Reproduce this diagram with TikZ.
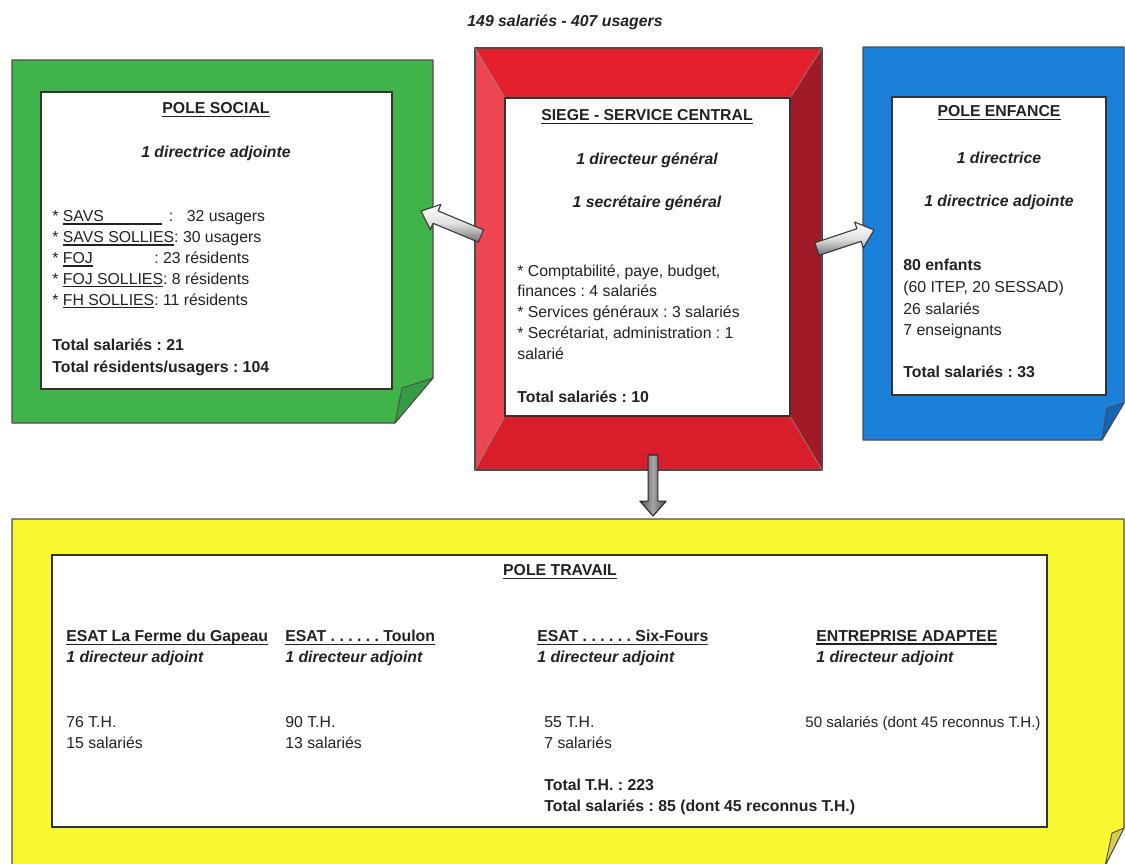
\documentclass[tikz,border=0pt]{standalone}
\usepackage{fontspec}
\setmainfont{Liberation Sans}
\usetikzlibrary{calc,fit}

\definecolor{ink}{HTML}{222222}
\definecolor{grn}{HTML}{40B44A}
\definecolor{grnflap}{HTML}{379A44}
\definecolor{blu}{HTML}{1A80DA}
\definecolor{bluflap}{HTML}{1466B4}
\definecolor{yel}{HTML}{F8F830}
\definecolor{yelflap}{HTML}{D9CC4C}
\definecolor{redtop}{HTML}{E3202C}
\definecolor{redleft}{HTML}{EE4650}
\definecolor{redright}{HTML}{A01B27}
\definecolor{redbottom}{HTML}{D81E2A}

\newcommand\basefont{\fontsize{9}{11.9}\selectfont\frenchspacing}
% thick underline used for the headings
\newcommand\uln[1]{\leavevmode\setbox0\hbox{#1}\rlap{\rule[-1.9pt]{\wd0}{0.75pt}}\box0}

% block arrow: style, tail, tip, shaft half-width, head half-width, head length
\newcommand\blockarrow[6]{%
  \path[#1] let \p1=(#2), \p2=(#3),
      \n1={atan2(\y2-\y1,\x2-\x1)}, \n2={veclen(\x2-\x1,\y2-\y1)} in
    [shift={(\p1)}, rotate=\n1]
    (0pt,-#4) -- ({\n2-#6},-#4) -- ({\n2-#6},-#5) -- ({\n2+0pt},0pt)
    -- ({\n2-#6},#5) -- ({\n2-#6},#4) -- (0pt,#4) -- cycle;}

\tikzset{
  txt/.style={inner sep=0pt, text=ink, font=\basefont},
  bftxt/.style={txt, font=\basefont\bfseries},
  bitxt/.style={txt, font=\basefont\bfseries\itshape},
  lst/.style={align=left, anchor=north west},
  frameline/.style={draw=black!70, line width=0.6pt, line join=round},
  panel/.style={draw=black!80, line width=0.8pt, fill=white, inner sep=0pt},
  flapline/.style={draw=black!70, line width=0.5pt, line join=round},
  sidearrow/.style={draw=black!80, line width=0.6pt, line join=round,
    top color=white, bottom color=black!55, middle color=black!12},
  downarrow/.style={draw=black!85, line width=0.6pt, line join=round,
    left color=black!70, right color=black!70, middle color=black!35},
}

\begin{document}
\begin{tikzpicture}[x=0.02cm, y=-0.02cm]
\useasboundingbox (0,0) rectangle (1125,863);
\fill[white] (0,0) rectangle (1125,863);

% ---------- heading ----------
\node[bitxt] (title) at (565,22) {149 salariés - 407 usagers};

% ---------- POLE SOCIAL (green sheet) ----------
\path[frameline, fill=grn] (12,60) -- (433,60) -- (433,378) -- (395,423) -- (12,423) -- cycle;
\path[flapline, fill=grnflap] (433,378) -- (402,388) -- (395,423) -- cycle;
\node[panel, fit={(41,92) (392,389)}] (social) {};

\node[bftxt] (socT) at (216,110) {\uln{POLE SOCIAL}};
\node[bitxt] (socD) at (216,153) {1 directrice adjointe};
\node[txt, lst] (socL) at (52,210) {%
  * \uln{SAVS\hspace*{33pt}}\hspace*{4pt}:\hspace*{7.7pt}32 usagers\\
  * \uln{SAVS SOLLIES}: 30 usagers\\
  * \uln{FOJ}\hspace*{35pt}: 23 résidents\\
  * \uln{FOJ SOLLIES} : 8 résidents\\
  * \uln{FH SOLLIES} : 11 résidents};
\node[bftxt, lst] (socTot) at (52,339) {Total salariés : 21\\[0.6pt]Total résidents/usagers : 104};

% ---------- SIEGE (red bevelled frame) ----------
\fill[redtop]    (475,48) -- (822,48) -- (790,98) -- (505,98) -- cycle;
\fill[redleft]   (475,48) -- (505,98) -- (505,416) -- (475,470) -- cycle;
\fill[redright]  (822,48) -- (822,470) -- (790,416) -- (790,98) -- cycle;
\fill[redbottom] (475,470) -- (505,416) -- (790,416) -- (822,470) -- cycle;
\draw[frameline] (475,48) rectangle (822,470);
\draw[black!45, line width=0.3pt] (475,48) -- (505,98) (822,48) -- (790,98)
  (475,470) -- (505,416) (822,470) -- (790,416);
\node[panel, fit={(505,98) (790,416)}] (siege) {};

\node[bftxt] (sieT) at (647,117) {\uln{SIEGE - SERVICE CENTRAL}};
\node[bitxt] (sieD) at (647,160) {1 directeur général};
\node[bitxt] (sieS) at (647,203) {1 secrétaire général};
\node[txt, lst] (sieL) at (517,264) {%
  * Comptabilité, paye, budget,\\
  finances : 4 salariés\\
  * Services généraux : 3 salariés\\
  * Secrétariat, administration : 1\\
  salarié};
\node[bftxt, lst] (sieTot) at (517,391) {Total salariés : 10};

% ---------- POLE ENFANCE (blue sheet) ----------
\path[frameline, fill=blu] (863,47) -- (1124,47) -- (1124,403) -- (1102,440) -- (863,440) -- cycle;
\path[flapline, fill=bluflap] (1124,403) -- (1107,408) -- (1102,440) -- cycle;
\node[panel, fit={(892,97) (1106,395)}] (enfance) {};

\node[bftxt] (enfT) at (999,113) {\uln{POLE ENFANCE}};
\node[bitxt] (enfD) at (999,158) {1 directrice};
\node[bitxt] (enfA) at (999,202) {1 directrice adjointe};
\node[txt, lst] (enfL) at (903,259) {%
  \textbf{80 enfants}\\[0.4pt]
  (60 ITEP, 20 SESSAD)\\[0.4pt]
  26 salariés\\[0.4pt]
  7 enseignants};
\node[bftxt, lst] (enfTot) at (903,366) {Total salariés : 33};

% ---------- POLE TRAVAIL (yellow sheet) ----------
\path[frameline, fill=yel] (12,519) -- (1124,519) -- (1124,828) -- (1105,866) -- (12,866) -- cycle;
\path[flapline, fill=yelflap] (1124,828) -- (1112,833) -- (1105,866) -- cycle;
\node[panel, fit={(52,555) (1047,827)}] (travail) {};

\node[bftxt] (trvT) at (560,572) {\uln{POLE TRAVAIL}};

\node[bftxt, lst] (esat1) at (66,630) {\uln{ESAT La Ferme du Gapeau}\\\textit{1 directeur adjoint}};
\node[bftxt, lst] (esat2) at (285,630) {\uln{ESAT . . . . . . Toulon}\\\textit{1 directeur adjoint}};
\node[bftxt, lst] (esat3) at (537,630) {\uln{ESAT . . . . . . Six-Fours}\\\textit{1 directeur adjoint}};
\node[bftxt, lst] (ea) at (816,630) {\uln{ENTREPRISE ADAPTEE}\\\textit{1 directeur adjoint}};

\node[txt, lst] (esat1n) at (66,716) {76 T.H.\\15 salariés};
\node[txt, lst] (esat2n) at (285,716) {90 T.H.\\13 salariés};
\node[txt, lst] (esat3n) at (544,716) {55 T.H.\\7 salariés};
\node[txt, lst, font=\fontsize{8.6}{11.9}\selectfont\frenchspacing] (ean) at (805,716) {50 salariés (dont 45 reconnus T.H.)};
\node[bftxt, lst] (trvTot) at (544,779) {Total T.H. : 223\\Total salariés : 85 (dont 45 reconnus T.H.)};

% ---------- connectors ----------
\coordinate (lTail) at (481,236);
\coordinate (lTip)  at (421,211);
\coordinate (rTail) at (817,249);
\coordinate (rTip)  at (874,230);
\coordinate (dTail) at (653,455);
\coordinate (dTip)  at (653,516);
\blockarrow{sidearrow}{lTail}{lTip}{3.8pt}{7.8pt}{9pt}
\blockarrow{sidearrow}{rTail}{rTip}{3.8pt}{7.8pt}{9pt}
\blockarrow{downarrow}{dTail}{dTip}{2.8pt}{7.5pt}{8.5pt}
\end{tikzpicture}
\end{document}
